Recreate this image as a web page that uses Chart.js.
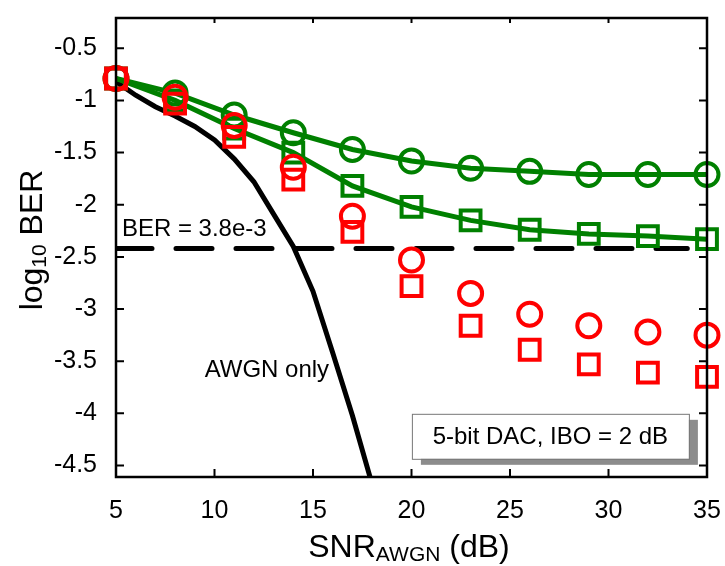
<!DOCTYPE html>
<html>
<head>
<meta charset="utf-8">
<script src="https://cdn.jsdelivr.net/npm/chart.js@4.4.0/dist/chart.umd.min.js"></script>
<style>
  html, body { margin: 0; padding: 0; background: #fff; }
  #wrap { width: 725px; height: 566px; }
</style>
</head>
<body>
<div id="wrap"><canvas id="berChart"></canvas></div>
<script>
// marker SNR points (dB)
const snrMarkers = [5, 8, 11, 14, 17, 20, 23, 26, 29, 32, 35];
// log10 BER values
const greenCircles = [-0.79, -0.93, -1.14, -1.31, -1.47, -1.58, -1.65, -1.68, -1.71, -1.71, -1.71];
const greenSquares = [-0.79, -1.00, -1.27, -1.50, -1.82, -2.02, -2.15, -2.24, -2.28, -2.30, -2.33];
const redCircles = [-0.79, -0.97, -1.24, -1.64, -2.11, -2.53, -2.85, -3.05, -3.16, -3.22, -3.25];
const redSquares = [-0.79, -1.03, -1.35, -1.76, -2.26, -2.78, -3.16, -3.39, -3.53, -3.61, -3.65];
// AWGN only curve
const snrAwgn = [5, 6, 7, 8, 9, 10, 11, 12, 13, 14, 15, 16, 17, 18];
const awgnOnly = [-0.82, -0.95, -1.06, -1.15, -1.25, -1.38, -1.56, -1.78, -2.09, -2.40, -2.83, -3.42, -4.02, -4.68];
// target BER line, log10(3.8e-3)
const berTarget = -2.42;
const berLineX = [5, 34];

const xTicks = [5, 10, 15, 20, 25, 30, 35];
const yTicks = [-4.5, -4, -3.5, -3, -2.5, -2, -1.5, -1, -0.5];

const FONT = '"Liberation Sans", Arial, Helvetica, sans-serif';

function pts(xs, ys) {
    return xs.map((x, i) => ({ x: x, y: ys[i] }));
}

function richWidth(ctx, parts) {
    let w = 0;
    parts.forEach(p => {
        ctx.font = p.size + 'px ' + FONT;
        w += ctx.measureText(p.t).width;
    });
    return w;
}

function drawRich(ctx, parts, x, y) {
    let cx = x - richWidth(ctx, parts) / 2;
    parts.forEach(p => {
        ctx.font = p.size + 'px ' + FONT;
        ctx.fillText(p.t, cx, y + (p.dy || 0));
        cx += ctx.measureText(p.t).width;
    });
}

// keep the plot box where the original has it
function noScalePadding(s) {
    s.paddingTop = 0;
    s.paddingBottom = 0;
    s.paddingLeft = 0;
    s.paddingRight = 0;
}

const framePlugin = {
    id: 'frame',
    afterDatasetsDraw(chart) {
        const ctx = chart.ctx;
        const a = chart.chartArea;
        const xs = chart.scales.x, ys = chart.scales.y;
        ctx.save();
        ctx.strokeStyle = '#000';
        ctx.lineWidth = 2.5;
        ctx.strokeRect(a.left, a.top, a.right - a.left, a.bottom - a.top);
        ctx.lineWidth = 2;
        ctx.beginPath();
        xTicks.forEach(v => {
            const px = xs.getPixelForValue(v);
            ctx.moveTo(px, a.bottom);
            ctx.lineTo(px, a.bottom - 8);
            ctx.moveTo(px, a.top);
            ctx.lineTo(px, a.top + 5);
        });
        yTicks.forEach(v => {
            const py = ys.getPixelForValue(v);
            ctx.moveTo(a.left, py);
            ctx.lineTo(a.left + 8, py);
            ctx.moveTo(a.right, py);
            ctx.lineTo(a.right - 8, py);
        });
        ctx.stroke();

        // annotations
        ctx.fillStyle = '#000';
        ctx.textBaseline = 'alphabetic';
        ctx.textAlign = 'left';
        ctx.font = '24px ' + FONT;
        ctx.fillText('BER = 3.8e-3', xs.getPixelForValue(5.3), ys.getPixelForValue(-2.30));
        ctx.fillText('AWGN only', xs.getPixelForValue(9.5), ys.getPixelForValue(-3.65));

        // legend-like box with shadow
        const bx = xs.getPixelForValue(27.05), by = ys.getPixelForValue(-4.22);
        const bw = 277, bh = 45;
        ctx.fillStyle = '#8c8c8c';
        ctx.fillRect(bx - bw / 2 + 9, by - bh / 2 + 6, bw, bh);
        ctx.fillStyle = '#fff';
        ctx.fillRect(bx - bw / 2, by - bh / 2, bw, bh);
        ctx.strokeStyle = '#777';
        ctx.lineWidth = 1;
        ctx.strokeRect(bx - bw / 2 + 0.5, by - bh / 2 + 0.5, bw, bh);
        ctx.fillStyle = '#000';
        ctx.textAlign = 'center';
        ctx.textBaseline = 'middle';
        ctx.font = '24px ' + FONT;
        ctx.fillText('5-bit DAC, IBO = 2 dB', bx, by + 1);

        // axis titles with subscripts
        ctx.textAlign = 'left';
        ctx.textBaseline = 'alphabetic';
        drawRich(ctx, [
            { t: 'SNR', size: 32 },
            { t: 'AWGN', size: 21, dy: 4 },
            { t: ' (dB)', size: 32 }
        ], 409, 557);

        ctx.translate(42, 240);
        ctx.rotate(-Math.PI / 2);
        drawRich(ctx, [
            { t: 'log', size: 32 },
            { t: '10', size: 21, dy: 4 },
            { t: ' BER', size: 32 }
        ], 0, 0);
        ctx.restore();
    }
};

new Chart(document.getElementById('berChart').getContext('2d'), {
    type: 'scatter',
    data: {
        datasets: [{
            label: 'red circles',
            data: pts(snrMarkers, redCircles),
            showLine: false,
            pointStyle: 'circle',
            pointRadius: 11.5,
            borderColor: '#ff0000',
            backgroundColor: 'rgba(0,0,0,0)',
            borderWidth: 4,
            pointBorderWidth: 4,
            clip: false
        }, {
            label: 'red squares',
            data: pts(snrMarkers, redSquares),
            showLine: false,
            pointStyle: 'rect',
            pointRadius: 14,
            borderColor: '#ff0000',
            backgroundColor: 'rgba(0,0,0,0)',
            borderWidth: 4,
            pointBorderWidth: 4,
            clip: false
        }, {
            label: 'green circles',
            data: pts(snrMarkers, greenCircles),
            showLine: true,
            borderWidth: 5,
            pointStyle: 'circle',
            pointRadius: 11.5,
            borderColor: '#008000',
            backgroundColor: 'rgba(0,0,0,0)',
            pointBorderWidth: 4,
            clip: false
        }, {
            label: 'green squares',
            data: pts(snrMarkers, greenSquares),
            showLine: true,
            borderWidth: 5,
            pointStyle: 'rect',
            pointRadius: 14,
            borderColor: '#008000',
            backgroundColor: 'rgba(0,0,0,0)',
            pointBorderWidth: 4,
            clip: false
        }, {
            label: 'BER target',
            data: berLineX.map(x => ({ x: x, y: berTarget })),
            showLine: true,
            borderWidth: 5,
            borderDash: [36, 24],
            borderCapStyle: 'round',
            borderColor: '#000',
            pointRadius: 0
        }, {
            label: 'AWGN only',
            data: pts(snrAwgn, awgnOnly),
            showLine: true,
            borderWidth: 5,
            borderColor: '#000',
            pointRadius: 0
        }]
    },
    options: {
        responsive: true,
        maintainAspectRatio: false,
        animation: false,
        layout: { padding: { top: 11, right: 17, left: 0, bottom: 0 } },
        plugins: {
            legend: { display: false },
            tooltip: { enabled: false }
        },
        scales: {
            x: {
                type: 'linear',
                min: 5,
                max: 35,
                afterBuildTicks: s => { s.ticks = xTicks.map(v => ({ value: v })); },
                afterFit: s => { s.height = 89; noScalePadding(s); },
                grid: { display: false },
                border: { display: false },
                ticks: {
                    color: '#000',
                    padding: 11,
                    maxRotation: 0,
                    font: { family: FONT, size: 25 }
                }
            },
            y: {
                type: 'linear',
                min: -4.61,
                max: -0.21,
                afterBuildTicks: s => { s.ticks = yTicks.map(v => ({ value: v })); },
                afterFit: s => { s.width = 116; noScalePadding(s); },
                grid: { display: false },
                border: { display: false },
                ticks: {
                    color: '#000',
                    padding: 11,
                    font: { family: FONT, size: 25 },
                    callback: v => String(v)
                }
            }
        }
    },
    plugins: [framePlugin]
});
</script>
</body>
</html>
